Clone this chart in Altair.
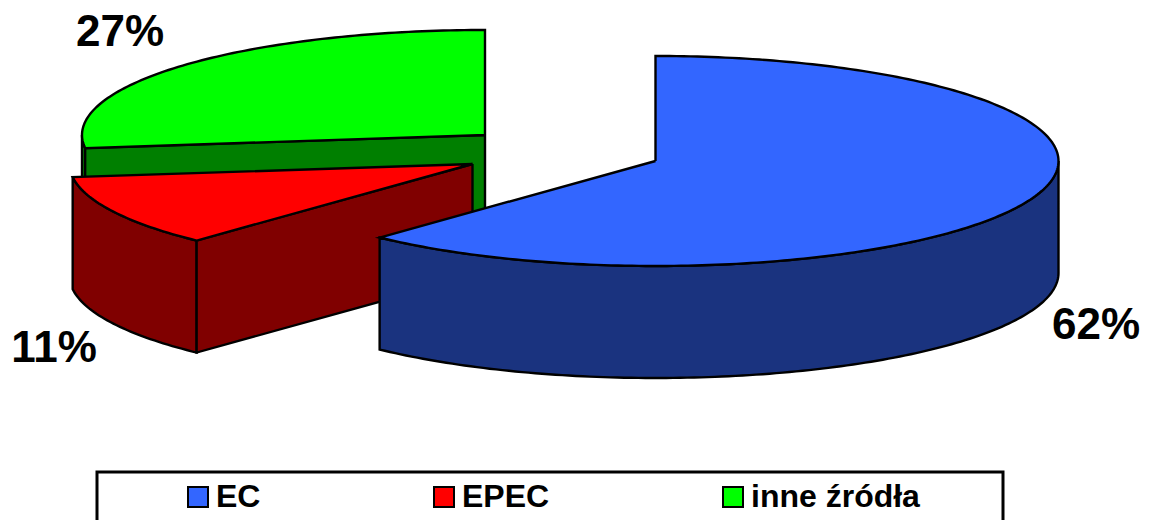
import math
import altair as alt
import pandas as pd

# Shares in percent, in drawing order clockwise from twelve o'clock
sources = ["EC", "EPEC", "inne źródła"]
shares = [62, 11, 27]

top_colors = ["#3366FF", "#FF0000", "#00FF00"]
side_colors = ["#1A337F", "#800000", "#007F00"]

# Exploded slice centres and the tilted-disc geometry, in page pixels
centres = [(655.5, 161), (472.5, 164), (485, 135)]
label_spots = [(1096, 326), (54, 349), (120, 33)]
RX, RY, DEPTH = 403, 105, 112
W, H = 1152, 520

x_scale = alt.Scale(domain=[0, W], nice=False, zero=False)
y_scale = alt.Scale(domain=[H, 0], nice=False, zero=False)
X = alt.X("x:Q", scale=x_scale, axis=None)
Y = alt.Y("y:Q", scale=y_scale, axis=None)


def rim(centre, a0, a1, drop=0.0, step=1.0):
    """Points along the disc's rim between two angles in degrees."""
    n = max(2, int(abs(a1 - a0) / step) + 1)
    pts = []
    for i in range(n + 1):
        a = math.radians(a0 + (a1 - a0) * i / n)
        pts.append((centre[0] + RX * math.sin(a), centre[1] - RY * math.cos(a) + drop))
    return pts


def outline(points, **extra):
    closed = list(points) + [points[0]]
    rows = [{"x": px, "y": py, "i": i, **extra} for i, (px, py) in enumerate(closed)]
    return pd.DataFrame(rows)


def polygon(points, colour):
    return (
        alt.Chart(outline(points))
        .mark_line(fill=colour, stroke="black", strokeWidth=2.4, strokeJoin="miter", clip=True)
        .encode(x=X, y=Y, order="i:Q")
    )


def top_face(points, name):
    return (
        alt.Chart(outline(points, zrodlo=name))
        .mark_line(stroke="black", strokeWidth=2.4, strokeJoin="miter", clip=True)
        .encode(
            x=X,
            y=Y,
            order="i:Q",
            fill=alt.Fill(
                "zrodlo:N",
                scale=alt.Scale(domain=sources, range=top_colors),
                legend=alt.Legend(
                    title=None,
                    orient="none",
                    legendX=182,
                    legendY=481,
                    columns=3,
                    columnPadding=167,
                    symbolType="square",
                    symbolSize=400,
                    symbolStrokeColor="black",
                    symbolStrokeWidth=2,
                    symbolOpacity=1,
                    labelFont="Liberation Sans",
                    labelFontWeight="bold",
                    labelFontSize=32,
                    labelColor="black",
                    labelOffset=2,
                    labelLimit=400,
                    padding=0,
                ),
            ),
        )
    )


# Cumulative slice angles
angles = []
start = 0.0
for share in shares:
    angles.append((start, start + share * 3.6))
    start += share * 3.6

layers = []

# Legend frame, running off the bottom of the page
layers.append(
    alt.Chart(pd.DataFrame({"x": [97], "x2": [1003], "y": [472], "y2": [535]}))
    .mark_rect(fill="white", stroke="black", strokeWidth=3, clip=True)
    .encode(x=X, x2="x2:Q", y=Y, y2="y2:Q")
)

# Slices are painted back to front: remaining sources, EPEC, then EC
for idx in (2, 1, 0):
    c = centres[idx]
    a0, a1 = angles[idx]

    # Outer wall, limited to the half of the rim that faces the viewer
    w0, w1 = max(a0, 90.0), min(a1, 270.0)
    if w1 > w0:
        upper = rim(c, w0, w1)
        lower = rim(c, w1, w0, drop=DEPTH)
        layers.append(polygon(upper + lower, side_colors[idx]))

    # Cut face where the slice's leading radius turns towards the viewer
    if idx in (1, 2):
        e = rim(c, a0, a0)[0]
        layers.append(
            polygon([c, e, (e[0], e[1] + DEPTH), (c[0], c[1] + DEPTH)], side_colors[idx])
        )

    layers.append(top_face([c] + rim(c, a0, a1), sources[idx]))

# Percentage labels
label_data = pd.DataFrame(
    {
        "x": [p[0] for p in label_spots],
        "y": [p[1] for p in label_spots],
        "label": [f"{s}%" for s in shares],
    }
)
layers.append(
    alt.Chart(label_data)
    .mark_text(font="Liberation Sans", fontWeight="bold", fontSize=44, color="black", baseline="middle")
    .encode(x=X, y=Y, text="label:N")
)

chart = (
    alt.layer(*layers)
    .properties(width=W, height=H, padding=0, autosize=alt.AutoSizeParams(type="none"), background="white")
    .configure_view(stroke=None)
)

chart.save("out.html", embed_options={"renderer": "svg", "actions": False})
